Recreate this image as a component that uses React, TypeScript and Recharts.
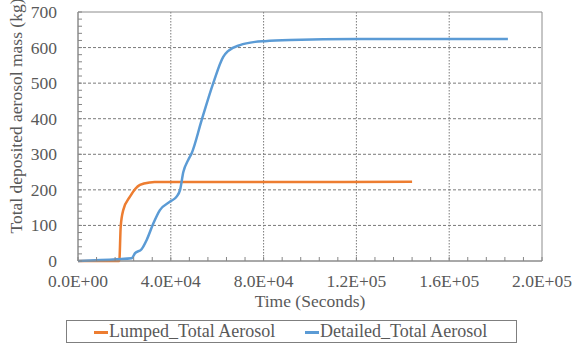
import {
  LineChart,
  Line,
  XAxis,
  YAxis,
  CartesianGrid,
  ReferenceArea,
  Legend,
} from "recharts";

// time (s) and deposited mass (kg)
const lumpedTime = [0, 17800, 18400, 19500, 22400, 26700, 31000, 33000, 60000, 100000, 144000];
const lumpedMass = [0, 0, 96, 143, 181, 214, 221, 222, 222, 222, 223];

const detailedTime = [
  0, 16700, 23100, 24600, 27400, 29600, 32500, 35300, 39700, 42500, 44000, 45400,
  47500, 49000, 53300, 58300, 62600, 64800, 69800, 76300, 80600, 91400, 120000, 185300,
];
const detailedMass = [
  0, 5, 7.5, 22, 33, 59, 106, 143, 167, 181, 200, 250, 284, 303, 396, 500, 574, 591,
  607, 616, 618, 621, 624, 624,
];

const xTicks = Array.from({ length: 26 }, (_, i) => i * 8000);
const yTicks = Array.from({ length: 36 }, (_, i) => i * 20);
const xGrid = [40000, 80000, 120000, 160000];
const yGrid = [100, 200, 300, 400, 500, 600];

const lumped = lumpedTime.map((t, i) => ({ t, m: lumpedMass[i] }));
const detailed = detailedTime.map((t, i) => ({ t, m: detailedMass[i] }));

const ORANGE = "#ED7D31";
const BLUE = "#5B9BD5";
const TEXT = "#595959";
const FONT = "'Liberation Serif', 'Times New Roman', serif";

const sci = (v: number) => {
  const [m, e] = v.toExponential(1).split("e");
  return `${m}E${e[0]}${e.slice(1).padStart(2, "0")}`;
};

const XTick = ({ x, y, payload }: any) => (
  <g>
    <line x1={x} y1={y} x2={x} y2={y - 4} stroke="#868686" />
    {payload.value % 40000 === 0 && (
      <text x={x} y={y + 26} textAnchor="middle" fill={TEXT} fontSize={17.5} fontFamily={FONT}>
        {sci(payload.value)}
      </text>
    )}
  </g>
);

const YTick = ({ x, y, payload }: any) => (
  <g>
    <line x1={x} y1={y} x2={x + 4} y2={y} stroke="#868686" />
    {payload.value % 100 === 0 && (
      <text x={x - 21} y={y + 6} textAnchor="end" fill={TEXT} fontSize={17.5} fontFamily={FONT}>
        {payload.value}
      </text>
    )}
  </g>
);

const LegendBox = () => (
  <div
    style={{
      boxSizing: "border-box",
      width: 451,
      height: 23,
      border: "1px solid #7f7f7f",
      position: "relative",
      fontFamily: FONT,
      fontSize: 18,
      color: TEXT,
    }}
  >
    <span style={{ position: "absolute", left: 27, top: 10, width: 14, height: 2.5, background: ORANGE }} />
    <span style={{ position: "absolute", left: 42, top: -1, lineHeight: "23px" }}>Lumped_Total Aerosol</span>
    <span style={{ position: "absolute", left: 238, top: 10, width: 14, height: 2.5, background: BLUE }} />
    <span style={{ position: "absolute", left: 253, top: -1, lineHeight: "23px" }}>Detailed_Total Aerosol</span>
  </div>
);

export default function App() {
  return (
    <div style={{ position: "absolute", left: 0, top: 0, width: 574, height: 345, background: "#fff" }}>
      <LineChart width={574} height={345} margin={{ top: 12, right: 32, left: 0, bottom: 11 }}>
        <CartesianGrid horizontal vertical={false} horizontalValues={yGrid} stroke="#7a7a7a" strokeDasharray="3 2" />
        <CartesianGrid horizontal={false} vertical verticalValues={xGrid} stroke="#7a7a7a" strokeDasharray="1.5 1.5" />
        <ReferenceArea x1={0} x2={200000} y1={0} y2={700} fill="none" stroke="#8c8c8c" />
        <XAxis
          type="number"
          dataKey="t"
          domain={[0, 200000]}
          ticks={xTicks}
          interval={0}
          tick={<XTick />}
          tickLine={false}
          tickSize={0}
          tickMargin={0}
          axisLine={{ stroke: "#8c8c8c" }}
          height={50}
          allowDuplicatedCategory={false}
          label={{
            content: () => (
              <text x={310} y={307} textAnchor="middle" fill={TEXT} fontSize={17.5} fontFamily={FONT}>
                Time (Seconds)
              </text>
            ),
          }}
        />
        <YAxis
          type="number"
          domain={[0, 700]}
          ticks={yTicks}
          interval={0}
          tick={<YTick />}
          tickLine={false}
          tickSize={0}
          tickMargin={0}
          axisLine={{ stroke: "#8c8c8c" }}
          width={78}
          label={{
            content: () => (
              <text
                x={22}
                y={116}
                transform="rotate(-90 22 116)"
                textAnchor="middle"
                fill={TEXT}
                fontSize={17.5}
                fontFamily={FONT}
              >
                Total deposited aerosol mass (kg)
              </text>
            ),
          }}
        />
        <Legend
          verticalAlign="bottom"
          content={<LegendBox />}
          wrapperStyle={{ position: "absolute", left: 66, top: 320, width: 451, height: 23 }}
        />
        <Line
          data={lumped}
          dataKey="m"
          name="Lumped_Total Aerosol"
          type="monotone"
          stroke={ORANGE}
          strokeWidth={2.5}
          dot={false}
          isAnimationActive={false}
        />
        <Line
          data={detailed}
          dataKey="m"
          name="Detailed_Total Aerosol"
          type="monotone"
          stroke={BLUE}
          strokeWidth={2.5}
          dot={false}
          isAnimationActive={false}
        />
      </LineChart>
    </div>
  );
}
